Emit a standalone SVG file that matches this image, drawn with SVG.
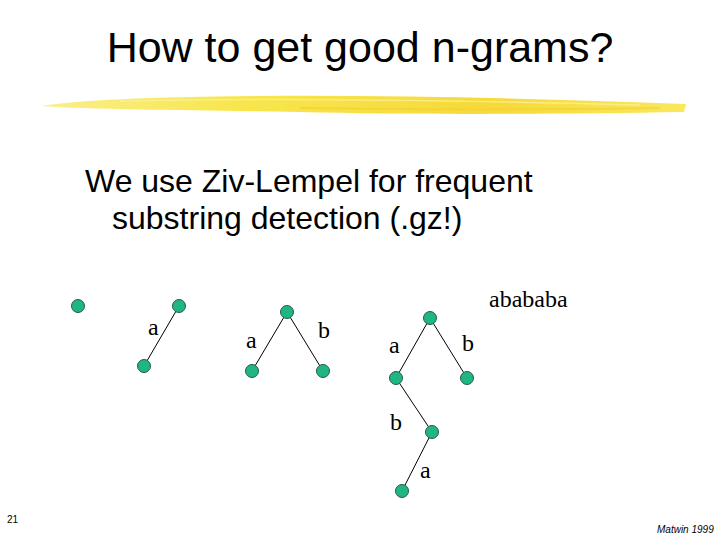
<svg xmlns="http://www.w3.org/2000/svg" width="720" height="540" viewBox="0 0 720 540">
<defs>
<style>
.title{font-family:"Liberation Sans",Arial,sans-serif;font-size:43px;fill:#000}
.body{font-family:"Liberation Sans",Arial,sans-serif;font-size:32px;fill:#000}
.lbl{font-family:"Liberation Serif","Times New Roman",serif;font-size:24px;fill:#000}
.foot{font-family:"Liberation Sans",Arial,sans-serif;font-size:10px;fill:#000}
.node{fill:#1fb584;stroke:#2a5a48;stroke-width:1}
.edge{stroke:#000;stroke-width:1;fill:none}
</style>
<linearGradient id="brush" x1="0" y1="0" x2="1" y2="0">
<stop offset="0" stop-color="#faef8a"/>
<stop offset="0.3" stop-color="#f8e64e"/>
<stop offset="0.7" stop-color="#f6d93a"/>
<stop offset="1" stop-color="#f9e85c"/>
</linearGradient>
</defs>
<rect width="720" height="540" fill="#fff"/>
<text class="title" x="360" y="62" text-anchor="middle">How to get good n-grams?</text>
<g id="brushstroke">
<path d="M40,106 C80,100 150,97 260,96 C400,95 550,99 686,104 L684,112 C560,114 420,115 300,112 C200,110 100,110 40,106 Z" fill="url(#brush)"/>
<path d="M120,101 C250,98 450,100 640,105" stroke="#fbf2a0" stroke-width="1.5" fill="none" opacity="0.7"/>
<path d="M300,108 C420,110 520,110 660,108" stroke="#f3cf30" stroke-width="2" fill="none" opacity="0.6"/>
</g>
<text class="body" x="85" y="192">We use Ziv-Lempel for frequent</text>
<text class="body" x="112" y="229">substring detection (.gz!)</text>
<g id="connectors">
<line class="edge" x1="179" y1="306" x2="144" y2="366"/>
<line class="edge" x1="287" y1="312" x2="252" y2="371"/>
<line class="edge" x1="287" y1="312" x2="323" y2="371"/>
<line class="edge" x1="430" y1="318" x2="396" y2="378"/>
<line class="edge" x1="430" y1="318" x2="467" y2="378"/>
<line class="edge" x1="396" y1="378" x2="432" y2="432"/>
<line class="edge" x1="432" y1="432" x2="402" y2="491"/>
</g>
<g id="labels">
<text class="lbl" x="148" y="335">a</text>
<text class="lbl" x="246" y="348">a</text>
<text class="lbl" x="318" y="338">b</text>
<text class="lbl" x="489" y="307">abababa</text>
<text class="lbl" x="389" y="353">a</text>
<text class="lbl" x="462" y="351">b</text>
<text class="lbl" x="390" y="430">b</text>
<text class="lbl" x="420" y="478">a</text>
</g>
<g id="n1"><circle class="node" cx="78" cy="306" r="6.5"/></g>
<g id="n2"><circle class="node" cx="179" cy="306" r="6.5"/></g>
<g id="n3"><circle class="node" cx="144" cy="366" r="6.5"/></g>
<g id="n4"><circle class="node" cx="287" cy="312" r="6.5"/></g>
<g id="n5"><circle class="node" cx="252" cy="371" r="6.5"/></g>
<g id="n6"><circle class="node" cx="323" cy="371" r="6.5"/></g>
<g id="n7"><circle class="node" cx="430" cy="318" r="6.5"/></g>
<g id="n8"><circle class="node" cx="396" cy="378" r="6.5"/></g>
<g id="n9"><circle class="node" cx="467" cy="378" r="6.5"/></g>
<g id="n10"><circle class="node" cx="432" cy="432" r="6.5"/></g>
<g id="n11"><circle class="node" cx="402" cy="491" r="6.5"/></g>
<text class="foot" x="7" y="523">21</text>
<text class="foot" x="657" y="533" font-style="italic">Matwin 1999</text>
</svg>
